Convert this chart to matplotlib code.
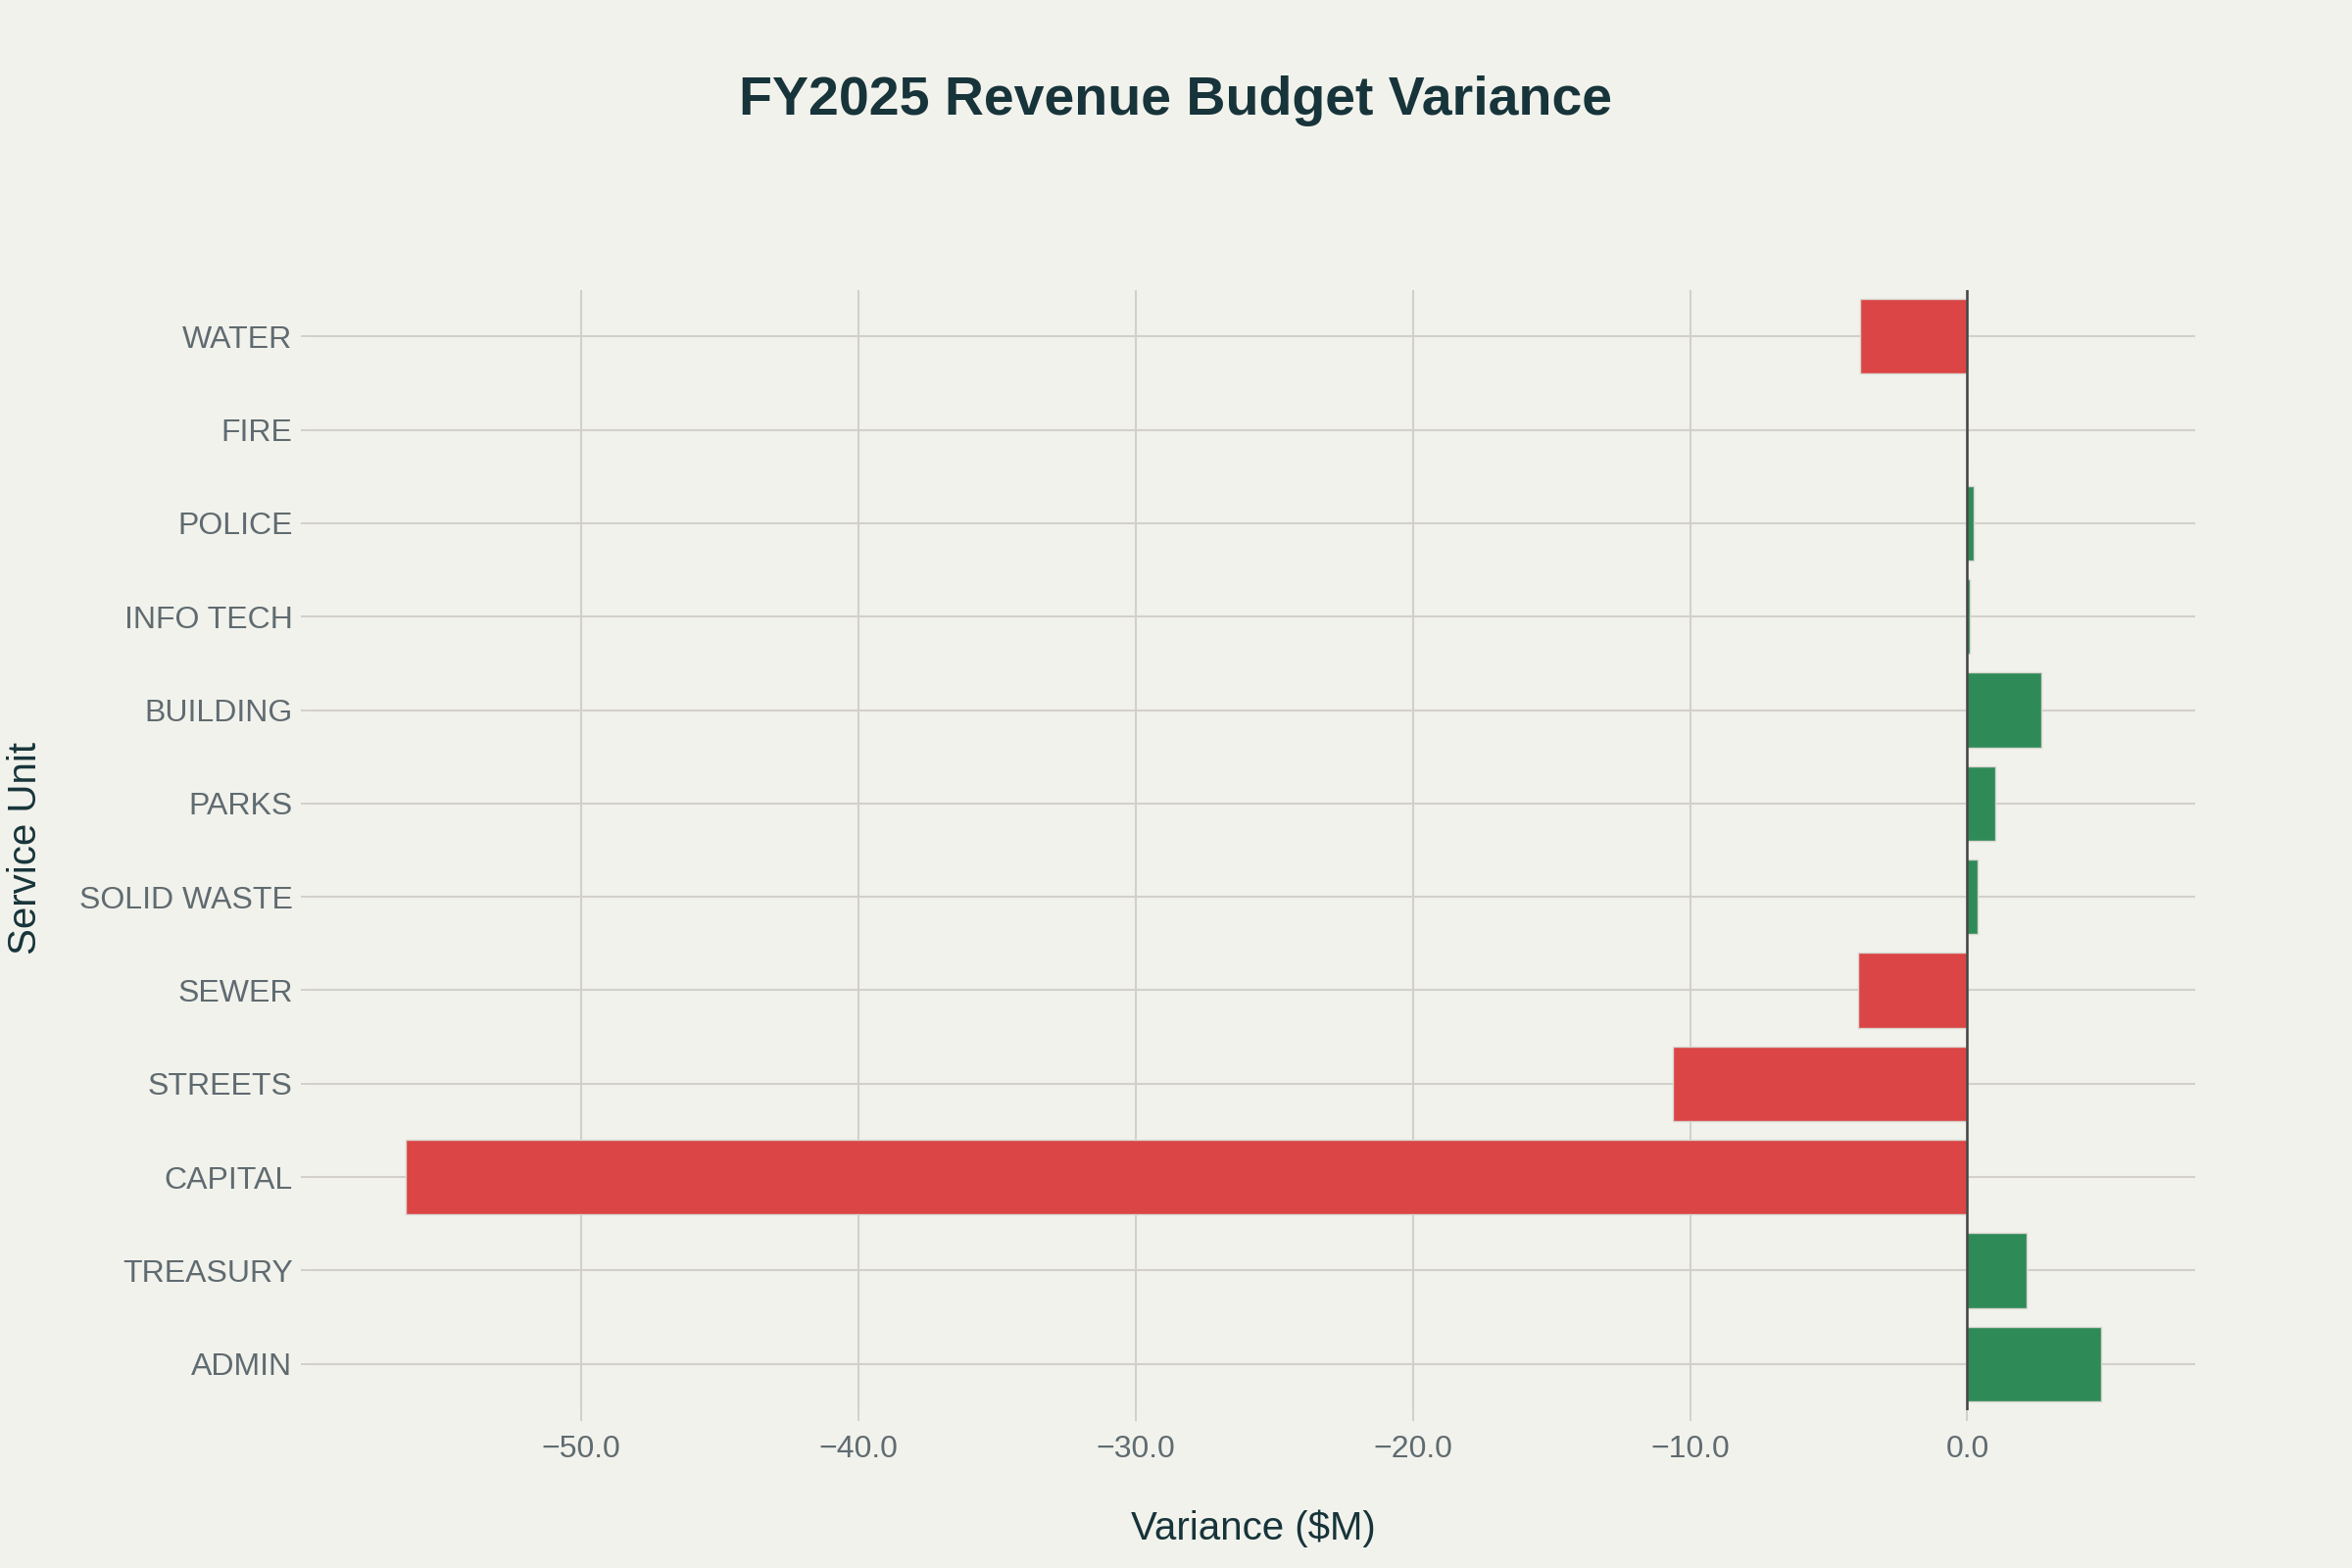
import numpy as np
import matplotlib
matplotlib.use("Agg")
import matplotlib.pyplot as plt

# data (bottom to top, as drawn)
units = ["ADMIN", "TREASURY", "CAPITAL", "STREETS", "SEWER", "SOLID WASTE",
         "PARKS", "BUILDING", "INFO TECH", "POLICE", "FIRE", "WATER"]
variance = [4.82, 2.15, -56.34, -10.61, -3.93, 0.38,
            1.00, 2.66, 0.08, 0.23, 0.0, -3.88]
xticks = [-50, -40, -30, -20, -10, 0]

bg = "#f2f2ec"
dark = "#17343a"
grey = "#5f6b70"
gridc = "#d3d0cb"
red = "#db4545"
green = "#2e8b57"

plt.rcParams["font.family"] = ["Liberation Sans", "DejaVu Sans"]

fig = plt.figure(figsize=(12, 8), dpi=200, facecolor=bg)
ax = fig.add_axes([318/2400, 1 - 1439.4/1600, (2240-318)/2400, (1439.4-295.6)/1600])
ax.set_facecolor(bg)

y = np.arange(len(units))
colors = [green if v >= 0 else red for v in variance]
ax.barh(y, variance, height=0.8, color=colors, edgecolor="#d8d6d0",
        linewidth=0.5, zorder=2)
ax.axvline(0, color="#444444", lw=0.9, zorder=3)

ax.set_xlim(-59.72, 8.22)
ax.set_ylim(-0.5, len(units) - 0.5)
ax.set_yticks(y)
ax.set_yticklabels(units)
ax.set_xticks(xticks)
ax.set_xticklabels([f"{t:.1f}".replace("-", "\u2212") for t in xticks])

ax.grid(True, color=gridc, lw=0.75, zorder=0)
ax.set_axisbelow(True)
for s in ax.spines.values():
    s.set_visible(False)
ax.tick_params(axis="both", colors=gridc, length=4, width=0.7,
               labelsize=11.5, labelcolor=grey)
ax.tick_params(axis="x", pad=5)
ax.tick_params(axis="y", pad=3)

fig.text(0.5, 1 - 103/1600, "FY2025 Revenue Budget Variance", ha="center",
         va="center", fontsize=20, fontweight="bold", color=dark)
fig.text(1279/2400, 1 - 1560/1600, "Variance ($M)", ha="center", va="center",
         fontsize=14.5, color=dark)
fig.text(26/2400, 1 - 866/1600, "Service Unit", ha="center", va="center",
         rotation=90, fontsize=14.5, color=dark)

fig.savefig("out.png", dpi=200, facecolor=bg)
